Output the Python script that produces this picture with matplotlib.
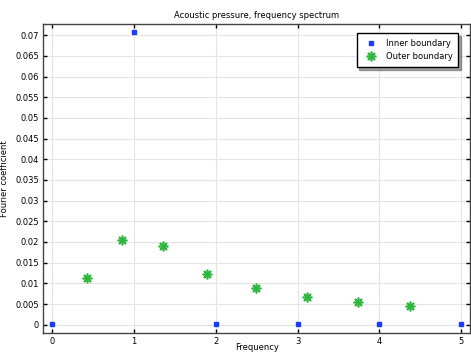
import matplotlib
matplotlib.use('Agg')
import matplotlib.pyplot as plt

# Spectrum data
inner_freq = [0, 1, 2, 3, 4, 5]
inner_coef = [0.0002, 0.0707, 0.0001, 0.0001, 0.0001, 0.0001]
outer_freq = [0.424, 0.86, 1.353, 1.89, 2.49, 3.11, 3.74, 4.37]
outer_coef = [0.01137, 0.0205, 0.0190, 0.01226, 0.00895, 0.0067, 0.0054, 0.0045]
x_ticks = [0, 1, 2, 3, 4, 5]
y_ticks = [i * 0.005 for i in range(15)]
y_labels = ['0', '0.005', '0.01', '0.015', '0.02', '0.025', '0.03', '0.035',
            '0.04', '0.045', '0.05', '0.055', '0.06', '0.065', '0.07']

plt.rcParams['font.family'] = 'DejaVu Sans'
plt.rcParams['font.size'] = 6

fig = plt.figure(figsize=(4.71, 3.54), dpi=100)
ax = fig.add_axes([0.0913, 0.0593, 0.907, 0.873])

ax.plot(inner_freq, inner_coef, linestyle='none', marker='s', markersize=3,
        color='#1a3cff', label='Inner boundary', zorder=3)
ax.plot(outer_freq, outer_coef, linestyle='none', marker=(8, 2, 0), markersize=7,
        markeredgewidth=1.2, color='#2db83d', label='Outer boundary', zorder=3)

ax.set_xlim(-0.11, 5.11)
ax.set_ylim(-0.002, 0.0727)
ax.set_xticks(x_ticks)
ax.set_yticks(y_ticks)
ax.set_yticklabels(y_labels)
ax.grid(True, color='#e4e4e4', linewidth=0.8)
ax.set_axisbelow(True)
ax.tick_params(direction='in', top=True, right=True, length=3, width=1,
               labelsize=6, pad=3)
for s in ax.spines.values():
    s.set_color('#444444')
    s.set_linewidth(1.0)

ax.set_title('Acoustic pressure, frequency spectrum', fontsize=6, pad=4)
ax.set_xlabel('Frequency', fontsize=6)
ax.set_ylabel('Fourier coefficient', fontsize=6)
ax.xaxis.set_label_coords(0.5, -0.031)
ax.yaxis.set_label_coords(-0.079, 0.5)

leg = ax.legend(loc='upper right', fontsize=6, fancybox=False, shadow=True,
                framealpha=1, edgecolor='black', borderaxespad=0.8,
                handletextpad=0.8, borderpad=0.7, bbox_to_anchor=(0.988, 0.992))
leg.get_frame().set_linewidth(1.0)

fig.savefig('out.png', dpi=100)
